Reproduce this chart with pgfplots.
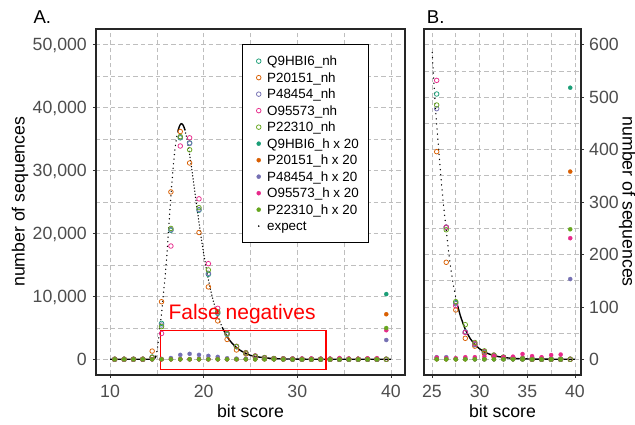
\documentclass[border=0pt]{standalone}
\usepackage{fontspec}
\setmainfont{Liberation Sans}
\usepackage{pgfplots}
\usepackage{pgfplotstable}
\pgfplotsset{compat=1.18}

\definecolor{cteal}{HTML}{1B9E77}
\definecolor{corange}{HTML}{D95F02}
\definecolor{cpurple}{HTML}{7570B3}
\definecolor{cpink}{HTML}{E7298A}
\definecolor{cgreen}{HTML}{66A61E}
\definecolor{gridgray}{HTML}{BEBEBE}
\definecolor{ticktext}{HTML}{4D4D4D}

\pgfplotstableread{
x    tnh   onh   pnh   mnh   gnh   th    oh   ph   mh   gh
10.5 0     0     0     0     0     0     0    0    0    0
11.5 0     0     0     0     0     0     0    0    0    0
12.5 0     0     0     0     0     0     0    0    0    0
13.5 0     20    0     0     0     0     0    0    0    0
14.5 350   1300  300   250   300   0     0    0    0    0
15.5 5700  9150  5450  4100  5200  0     0    60   0    0
16.5 20500 26600 20600 18000 20800 0     0    200  0    0
17.5 35200 36200 35300 33900 35400 0     0    700  0    0
18.5 34400 31200 34300 35200 33300 0     0    860  0    0
19.5 23700 20150 23800 25500 24100 0     0    700  0    0
20.5 13500 11500 13650 15200 14200 0     0    540  0    0
21.5 7300  6100  7400  8100  7550  0     0    380  0    0
22.5 3950  3150  4000  4150  4100  0     0    160  0    0
23.5 2000  1480  2000  2050  2050  0     0    100  0    0
24.5 1000  850   1000  1050  1020  0     0    80   0    0
25.5 506   396   478   532   485   0     0    80   60   0
26.5 252   185   252   252   247   0     0    80   40   0
27.5 108   94    106   102   110   0     0    20   40   0
28.5 52    40    52    51    66    0     0    20   80   0
29.5 28    25    28    30    32    0     0    0    80   0
30.5 13    11    14    15    16    0     0    0    100  0
31.5 7     5     7     8     8     0     0    0    120  0
32.5 4     3     3     4     4     0     0    0    80   0
33.5 2     1     2     2     2     0     0    0    100  0
34.5 1     1     1     1     1     0     0    0    200  0
35.5 1     0     0     0     0     0     0    0    120  0
36.5 0     0     0     0     0     0     0    0    80   0
37.5 0     0     0     0     0     0     0    0    160  0
38.5 0     0     0     0     0     0     0    0    180  0
39.5 0     0     0     0     0     10360 7160 3060 4620 4960
}\tabA

\pgfplotstableread{
x    th  oh  ph  mh  gh
25.5 0   0   4   3   0
26.5 0   0   4   2   0
27.5 0   0   1   2   0
28.5 0   0   1   4   0
29.5 0   0   0   4   0
30.5 0   0   0   5   0
31.5 0   0   0   6   0
32.5 0   0   0   4   0
33.5 0   0   0   5   0
34.5 0   0   0   10  0
35.5 0   0   0   6   0
36.5 0   0   0   4   0
37.5 0   0   0   8   0
38.5 0   0   0   9   0
39.5 518 358 153 231 248
}\tabB

\pgfplotsset{
  nh/.style={only marks, color=#1, mark=o, mark size=2.3pt, mark options={draw=#1, fill=none, line width=0.75pt, solid}},
  hh/.style={only marks, color=#1, mark=*, mark size=2.1pt, mark options={draw=#1, fill=#1, line width=0.2pt, solid}},
  exsolid/.style={black, line width=1.4pt, no marks, smooth, tension=0.3, forget plot},
  exdot/.style={black, line width=1.4pt, no marks, line cap=round, dash pattern=on 0.1pt off #1, forget plot},
  myaxis/.style={
    scale only axis, height=346pt,
    axis line style={draw=black!85, line width=1.4pt},
    grid=both,
    major grid style={draw=gridgray, line width=0.6pt, dash pattern=on 4.5pt off 3pt},
    minor grid style={draw=gridgray, line width=0.6pt, dash pattern=on 4.5pt off 3pt},
    tick align=outside,
    major tick length=3pt, minor tick length=0pt,
    tick style={draw=black!80, line width=0.6pt},
    tick label style={font=\fontsize{17.7}{20}\selectfont, text=ticktext, inner sep=0pt, text depth=0pt},
    /pgf/number format/assume math mode=true,
    /pgf/number format/1000 sep={,},
    /pgf/number format/fixed,
    scaled ticks=false,
    xticklabel shift=7pt,
  },
}

\begin{document}
\begin{tikzpicture}
\useasboundingbox (0,0) rectangle (635pt,425pt);

% ---------------- Panel A ----------------
\begin{axis}[myaxis, width=309pt, at={(96pt,50pt)}, anchor=south west,
  xmin=8.5, xmax=41.5, ymin=-2500, ymax=52500,
  xtick={10,20,30,40}, minor xtick={15,25,35},
  ytick={0,10000,20000,30000,40000,50000},
  minor ytick={5000,15000,25000,35000,45000},
  xtick pos=left, ytick pos=left,
  yticklabel shift=6pt,
  xticklabel style={anchor=north},
  yticklabel style={anchor=east},
  legend image code/.code={\path[draw=none, fill=none] (0pt,-2pt) rectangle (15pt,2pt); \draw[mark repeat=2,mark phase=2,#1] plot coordinates {(0pt,0pt) (6.6pt,0pt) (15pt,0pt)};},
  legend cell align=left,
  legend style={at={(rel axis cs:0.4715,0.9566)}, anchor=north west,
    draw=black, line width=0.9pt, fill=white,
    font=\fontsize{13.4}{16}\selectfont,
    inner xsep=10pt, inner ysep=10.5pt, row sep=4.1pt,
    nodes={inner xsep=0pt, inner ysep=0pt, text height=11pt, text depth=1.4pt}},
]
% expected curve
\addplot[exsolid] coordinates {(10,0) (11,0) (12,0) (13,0) (13.5,1) (14,3) (14.25,8) (14.5,20) (14.75,100) (14.9,500)};
\addplot[exdot=4.5pt] coordinates {(14.9,500) (15,1200) (15.1,2200) (15.2,3300) (15.33,5000) (15.5,7300) (15.69,10300) (15.87,12900) (16.05,16200) (16.22,19900) (16.4,23900) (16.58,27600) (16.76,30800) (16.93,33400) (17.1,35200) (17.25,36300)};
\addplot[exsolid] coordinates {(17.25,36300) (17.4,37000) (17.5,37300) (17.6,37450) (17.7,37400) (17.8,37220) (17.9,36900) (18,36450)};
\addplot[exdot=3pt] coordinates {(18,36450) (18.25,34780) (18.5,32550) (18.75,29990) (19,27250) (19.25,24460) (19.5,21750) (19.75,19180) (20,16810) (20.25,14630) (20.5,12680) (20.75,10940) (21,9410) (21.25,8100) (21.5,6900) (21.75,5900) (22,5010)};
\addplot[exsolid] coordinates {(22,5010) (22.25,4280) (22.5,3620) (22.75,3070) (23,2606) (23.5,1868) (24,1330) (24.5,930) (25,620) (25.5,445) (26,332) (26.5,247) (27,170) (27.5,118) (28,82) (29,40) (30,20) (31,10) (32,5) (34,1) (36,0) (40,0)};

\addplot[nh=cteal]   table[x=x,y=tnh]{\tabA};
\addplot[nh=corange] table[x=x,y=onh]{\tabA};
\addplot[nh=cpurple] table[x=x,y=pnh]{\tabA};
\addplot[nh=cpink]   table[x=x,y=mnh]{\tabA};
\addplot[nh=cgreen]  table[x=x,y=gnh]{\tabA};
\addplot[hh=cteal]   table[x=x,y=th]{\tabA};
\addplot[hh=corange] table[x=x,y=oh]{\tabA};
\addplot[hh=cpurple] table[x=x,y=ph]{\tabA};
\addplot[hh=cpink]   table[x=x,y=mh]{\tabA};
\addplot[hh=cgreen]  table[x=x,y=gh]{\tabA};
\addlegendimage{only marks, black, mark=*, mark size=0.7pt, mark options={draw=black, fill=black, line width=0.1pt}}
\legend{Q9HBI6\_nh, P20151\_nh, P48454\_nh, O95573\_nh, P22310\_nh,
  Q9HBI6\_h x 20, P20151\_h x 20, P48454\_h x 20, O95573\_h x 20, P22310\_h x 20, expect}

\draw[red, line width=1.3pt] (axis cs:15.41,-1590) rectangle (axis cs:33.05,4540);
\end{axis}

% ---------------- Panel B ----------------
\begin{axis}[myaxis, width=157pt, at={(424pt,50pt)}, anchor=south west,
  xmin=24.17, xmax=40.63, ymin=-30, ymax=630,
  xtick={25,30,35,40}, minor xtick={27.5,32.5,37.5},
  ytick={0,100,200,300,400,500,600},
  minor ytick={50,150,250,350,450,550},
  xtick pos=left, ytick pos=right, yticklabel pos=right,
  yticklabel shift=5pt,
  xticklabel style={anchor=north},
  yticklabel style={anchor=west},
]
\addplot[exdot=5pt] coordinates {(25.03,585) (25.2,530) (25.4,470) (25.6,425) (25.8,380) (26,335) (26.25,288) (26.5,247) (26.75,205) (27,170) (27.25,142) (27.5,118) (27.7,102)};
\addplot[exsolid] coordinates {(27.7,102) (28,82) (28.5,57) (29,40) (29.5,28) (30,20) (30.5,14) (31,10) (31.5,7) (32,5) (33,2.5) (34,1.2) (35,0.6) (36,0.3) (38,0.07) (40,0)};

\addplot[nh=cteal,   restrict x to domain=25:41] table[x=x,y=tnh]{\tabA};
\addplot[nh=corange, restrict x to domain=25:41] table[x=x,y=onh]{\tabA};
\addplot[nh=cpurple, restrict x to domain=25:41] table[x=x,y=pnh]{\tabA};
\addplot[nh=cpink,   restrict x to domain=25:41] table[x=x,y=mnh]{\tabA};
\addplot[nh=cgreen,  restrict x to domain=25:41] table[x=x,y=gnh]{\tabA};
\addplot[hh=cteal]   table[x=x,y=th]{\tabB};
\addplot[hh=corange] table[x=x,y=oh]{\tabB};
\addplot[hh=cpurple] table[x=x,y=ph]{\tabB};
\addplot[hh=cpink]   table[x=x,y=mh]{\tabB};
\addplot[hh=cgreen]  table[x=x,y=gh]{\tabB};
\end{axis}

% ---------------- labels ----------------
\node[anchor=base west, inner sep=0pt, font=\fontsize{18.6}{20}\selectfont] at (33.3pt,401.7pt) {A.};
\node[anchor=base west, inner sep=0pt, font=\fontsize{18.6}{20}\selectfont] at (426.7pt,401.7pt) {B.};
\node[anchor=base, inner sep=0pt, font=\fontsize{17.7}{20}\selectfont] at (250.5pt,7.3pt) {bit score};
\node[anchor=base, inner sep=0pt, font=\fontsize{17.7}{20}\selectfont] at (502.5pt,7.3pt) {bit score};
\node[anchor=base, rotate=90, inner sep=0pt, font=\fontsize{17.7}{20}\selectfont] at (24.5pt,223.3pt) {number of sequences};
\node[anchor=base, rotate=-90, inner sep=0pt, font=\fontsize{17.7}{20}\selectfont] at (622.5pt,223.3pt) {number of sequences};
\node[anchor=base west, inner sep=0pt, text=red, font=\fontsize{21}{24}\selectfont] at (168.3pt,105pt) {False negatives};
\end{tikzpicture}
\end{document}
